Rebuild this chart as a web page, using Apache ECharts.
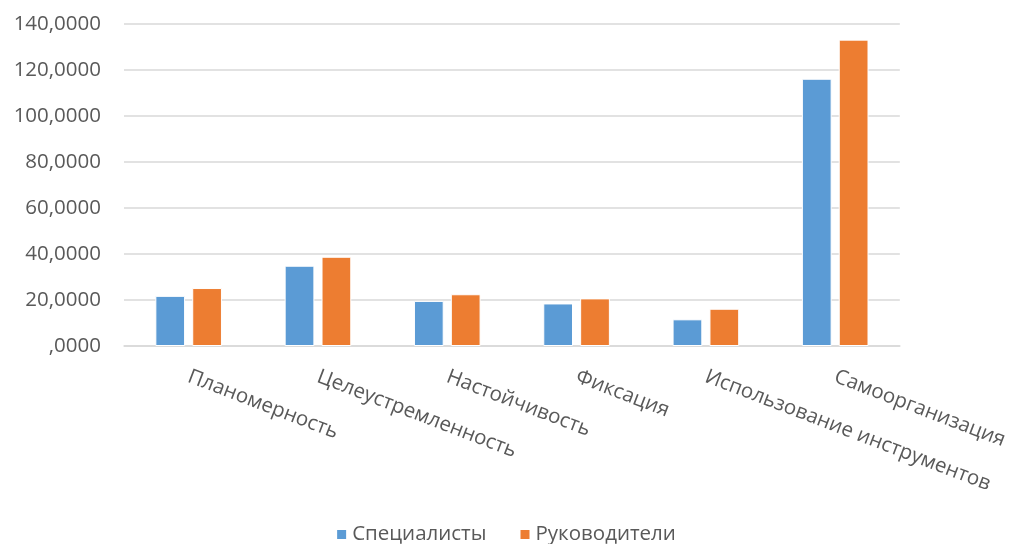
<!DOCTYPE html>
<html><head><meta charset="utf-8">
<script src="https://cdn.jsdelivr.net/npm/echarts@6/dist/echarts.min.js"></script>
<style>html,body{margin:0;padding:0;background:#fff}#c{width:1011px;height:544px}</style>
</head><body><div id="c"></div>
<script>
const categories = ["Планомерность","Целеустремленность","Настойчивость","Фиксация","Использование инструментов","Самоорганизация"];
const specialists = [21.8, 34.9, 19.6, 18.5, 11.6, 116.2];
const managers = [25.2, 38.8, 22.5, 20.7, 16.2, 133.2];
const seriesNames = ["Специалисты","Руководители"];
const yTicks = {min:0, max:140, interval:20};

const chart = echarts.init(document.getElementById('c'));
const font = "'Open Sans', 'Noto Sans', sans-serif";
chart.setOption({
  animation:false,
  textStyle:{fontFamily:font},
  grid:{left:124, right:111, top:24, bottom:198, containLabel:false},
  legend:{bottom:-6, left:'center', itemWidth:11, itemHeight:11, itemGap:32, icon:'rect',
    textStyle:{fontSize:20.5, color:'#595959', fontFamily:font}},
  xAxis:{type:'category', data:categories,
    axisLine:{lineStyle:{color:'#d9d9d9', width:1.5}},
    axisTick:{show:false},
    axisLabel:{rotate:-21, fontSize:20.5, color:'#595959', fontFamily:font, margin:30, interval:0}},
  yAxis:{type:'value', min:yTicks.min, max:yTicks.max, interval:yTicks.interval,
    axisLine:{show:false}, axisTick:{show:false},
    splitLine:{lineStyle:{color:'#d9d9d9', width:1.5}},
    axisLabel:{fontSize:20.5, color:'#595959', fontFamily:font, margin:23,
      formatter:v => v === 0 ? ',0000' : v + ',0000'}},
  series:[
    {name:seriesNames[0], type:'bar', data:specialists, barWidth:'23%', barGap:'24%',
      itemStyle:{color:'#5b9bd5', borderColor:'#ffffff', borderWidth:1}},
    {name:seriesNames[1], type:'bar', data:managers, barWidth:'23%', barGap:'24%',
      itemStyle:{color:'#ed7d31', borderColor:'#ffffff', borderWidth:1}}
  ]
});
</script></body></html>
